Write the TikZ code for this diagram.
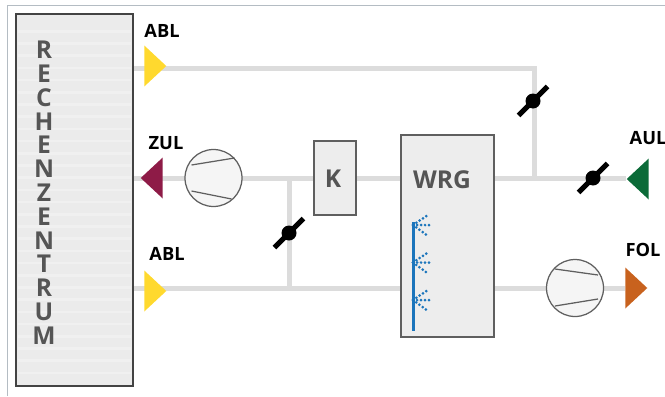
\documentclass[tikz,border=0pt]{standalone}
\usepackage{fontspec}
\setmainfont{Open Sans}
\usepackage{tikz}
\usetikzlibrary{arrows.meta,positioning,calc,shapes.geometric,backgrounds}
\definecolor{duct}{HTML}{DCDCDC}
\definecolor{boxgray}{HTML}{EDEDED}
\definecolor{edgegray}{HTML}{5F5F5F}
\definecolor{textgray}{HTML}{555555}
\definecolor{framegray}{HTML}{B4BCC3}
\definecolor{sprayblue}{HTML}{1B75BC}
\definecolor{ablyellow}{HTML}{FFD92E}
\definecolor{zulred}{HTML}{8E1B47}
\definecolor{aulgreen}{HTML}{0B6B38}
\definecolor{folorange}{HTML}{C8621E}
\begin{document}
\begin{tikzpicture}[x=0.02cm,y=-0.02cm, ductline/.style={line width=1mm,draw=duct}, unit/.style={draw=edgegray,line width=0.4mm,fill=boxgray,inner sep=0pt}, tag/.style={font=\bfseries\fontsize{10.4}{12}\selectfont,text=black,inner sep=0pt}, boxlabel/.style={font=\bfseries\fontsize{14}{16}\selectfont,text=textgray,inner sep=0pt}, vent/.style={isosceles triangle,isosceles triangle apex angle=57,isosceles triangle stretches,minimum width=0.82cm,minimum height=0.44cm,inner sep=0pt,anchor=apex}, fan/.style={circle,draw=edgegray,line width=0.25mm,fill=white!96!black,minimum size=1.14cm,inner sep=0pt}, blade/.style={draw=edgegray,line width=0.25mm}, damper/.style={circle,fill=black,minimum size=0.3cm,inner sep=0pt}, spray/.style={draw=sprayblue,line width=0.6mm,line cap=round,dash pattern=on 0pt off 0.8mm}]
\useasboundingbox (0,0) rectangle (665,396);
\draw[framegray,line width=0.2mm] (7,396) -- (7,5) -- (665,5);
% data centre
\node[draw=edgegray!70!black,line width=0.4mm,fill=black!8,minimum width=2.34cm,minimum height=7.44cm,inner sep=0pt] (rz) at (74.5,200) {};
\foreach \k in {0,...,28} \fill[white!94!black] (18,30+12.2*\k) rectangle (131,32.5+12.2*\k);
\foreach \c [count=\i from 0] in {R,E,C,H,E,N,Z,E,N,T,R,U,M} \node[boxlabel] (rz\i) at (44,50+23.8*\i) {\c};
% units
\node[unit,minimum width=0.84cm,minimum height=1.48cm] (k) at (335,178) {};
\node[boxlabel] (klabel) at (333,179) {K};
\node[unit,minimum width=1.86cm,minimum height=4.04cm] (wrg) at (447.5,236) {};
\node[boxlabel] (wrglabel) at (442,180) {WRG};
\node[fan] (fanzul) at (213.5,178) {};
\node[fan] (fanfol) at (575,288) {};
\draw[blade] ($(fanzul)+(-22,-13)$) -- ($(fanzul)+(21,-20)$);
\draw[blade] ($(fanzul)+(-22,13)$) -- ($(fanzul)+(18,21)$);
\draw[blade] ($(fanfol)+(-20,-19)$) -- ($(fanfol)+(23,-13)$);
\draw[blade] ($(fanfol)+(-20,18)$) -- ($(fanfol)+(23,11)$);
% air vents
\node[vent,fill=ablyellow] (ablup) at (167,66) {};
\node[vent,fill=ablyellow] (abldown) at (167,291) {};
\node[vent,fill=zulred,shape border rotate=180] (zul) at (140,178) {};
\node[vent,fill=aulgreen,shape border rotate=180] (aul) at (626,179) {};
\node[vent,fill=folorange] (fol) at (648,288) {};
\node[tag] (tablup) at (162,31) {ABL};
\node[tag] (tzul) at (166,143) {ZUL};
\node[tag] (tabldown) at (167,254) {ABL};
\node[tag] (taul) at (648,138) {AUL};
\node[tag] (tfol) at (643,250) {FOL};
% junctions
\coordinate (jabl) at (534,68);
\coordinate (jaul) at (534,178);
\coordinate (jzul) at (289,178);
\coordinate (jfol) at (289,288);
\begin{scope}[on background layer]
\draw[ductline] (rz.east |- jabl) -- (jabl) -- (jaul);
\draw[ductline] (rz.east |- jzul) -- (wrg.west |- jzul);
\draw[ductline] (wrg.east |- jaul) -- (aul.apex |- jaul);
\draw[ductline] (rz.east |- jfol) -- (wrg.west |- jfol);
\draw[ductline] (wrg.east |- jfol) -- (fol.west |- jfol);
\draw[ductline] (jzul) -- (jfol);
\end{scope}
% dampers
\foreach \n/\p in {dabl/{(533,101)},daul/{(593,178)},dbypass/{(289,233)}} {
\node[damper] (\n) at \p {};
\draw[black,line width=1mm] ($(\n)+(-14.5,14.5)$) -- ($(\n)+(14.5,-14.5)$);
}
% spray bar
\coordinate (pipetop) at (413,222);
\coordinate (pipeend) at (413,331);
\draw[sprayblue,line width=0.6mm] (pipetop) -- (pipeend);
\foreach \y [count=\i] in {225,262.5,300} {
\coordinate (nozzle\i) at (413,\y);
\draw[spray] (nozzle\i) -- ++(15,-10);
\draw[spray] (nozzle\i) -- ++(17,0);
\draw[spray] (nozzle\i) -- ++(15,11);
}
\end{tikzpicture}
\end{document}
